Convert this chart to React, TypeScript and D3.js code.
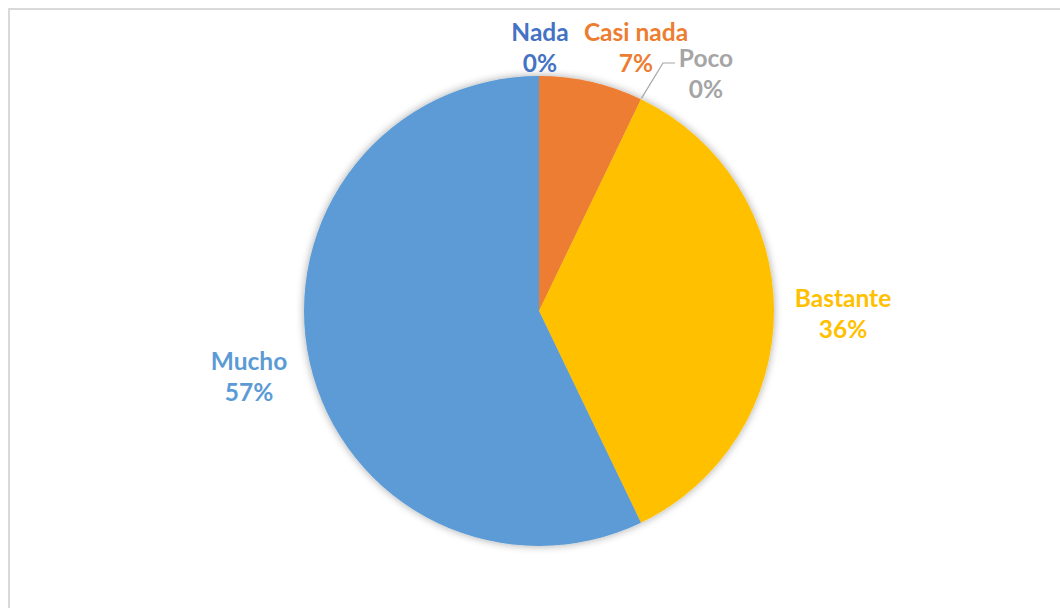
import React from "react";
import * as d3 from "d3";

const categories = ["Nada", "Casi nada", "Poco", "Bastante", "Mucho"];
const counts = [0, 1, 0, 5, 8];
const sliceColors = ["#4472C4", "#ED7D31", "#A5A5A5", "#FFC000", "#5B9BD5"];
const labelColors = ["#4472C4", "#ED7D31", "#A5A5A5", "#FFC000", "#5B9BD5"];

const W = 1060;
const H = 608;
const cx = 539;
const cy = 311;
const R = 235;

export default function App() {
  const total = d3.sum(counts);
  const pie = d3
    .pie<number>()
    .sort(null)
    .value((d) => d);
  const arcs = pie(counts);
  const arcGen = d3.arc<d3.PieArcDatum<number>>().innerRadius(0).outerRadius(R);
  const fmt = d3.format(".0%");

  const polar = (a: number, r: number) => [Math.sin(a) * r, -Math.cos(a) * r];

  // label centers relative to the pie center (best-fit layout)
  const labelPos = [
    [1, -264],
    [97, -264],
    [167, -238],
    [304, 2],
    [-290, 65],
  ];

  // Poco leader line
  const poco = arcs[2];
  const pocoEdge = polar(poco.startAngle, R + 1);
  const leaderElbow = [124, -248];
  const leaderEnd = [136, -248];

  return (
    <svg
      width={W}
      height={H}
      style={{ position: "absolute", left: 0, top: 0, background: "#fff" }}
    >
      <defs>
        <filter id="sh" x="-20%" y="-20%" width="140%" height="140%">
          <feGaussianBlur in="SourceAlpha" stdDeviation="4" />
          <feOffset dx="0" dy="0" result="b" />
          <feComponentTransfer>
            <feFuncA type="linear" slope="0.35" />
          </feComponentTransfer>
          <feMerge>
            <feMergeNode />
            <feMergeNode in="SourceGraphic" />
          </feMerge>
        </filter>
      </defs>
      <rect x={9} y={9} width={1200} height={800} fill="#fff" stroke="#d9d9d9" strokeWidth={2} />
      <g transform={`translate(${cx},${cy})`}>
        <g filter="url(#sh)">
          {arcs.map((a, i) =>
            a.value > 0 ? (
              <path key={i} d={arcGen(a) || ""} fill={sliceColors[i]} />
            ) : null
          )}
        </g>
        <polyline
          points={`${pocoEdge[0]},${pocoEdge[1]} ${leaderElbow[0]},${leaderElbow[1]} ${leaderEnd[0]},${leaderEnd[1]}`}
          fill="none"
          stroke="#A6A6A6"
          strokeWidth={1.2}
        />
        {categories.map((c, i) => {
          const [x, y] = labelPos[i];
          return (
            <text
              key={i}
              x={x}
              y={y}
              textAnchor="middle"
              fill={labelColors[i]}
              style={{ fontFamily: "Lato, 'Open Sans', sans-serif", fontWeight: 700, fontSize: 24.5 }}
            >
              <tspan x={x} dy={-6}>{c}</tspan>
              <tspan x={x} dy={31}>{fmt(counts[i] / total)}</tspan>
            </text>
          );
        })}
      </g>
    </svg>
  );
}
